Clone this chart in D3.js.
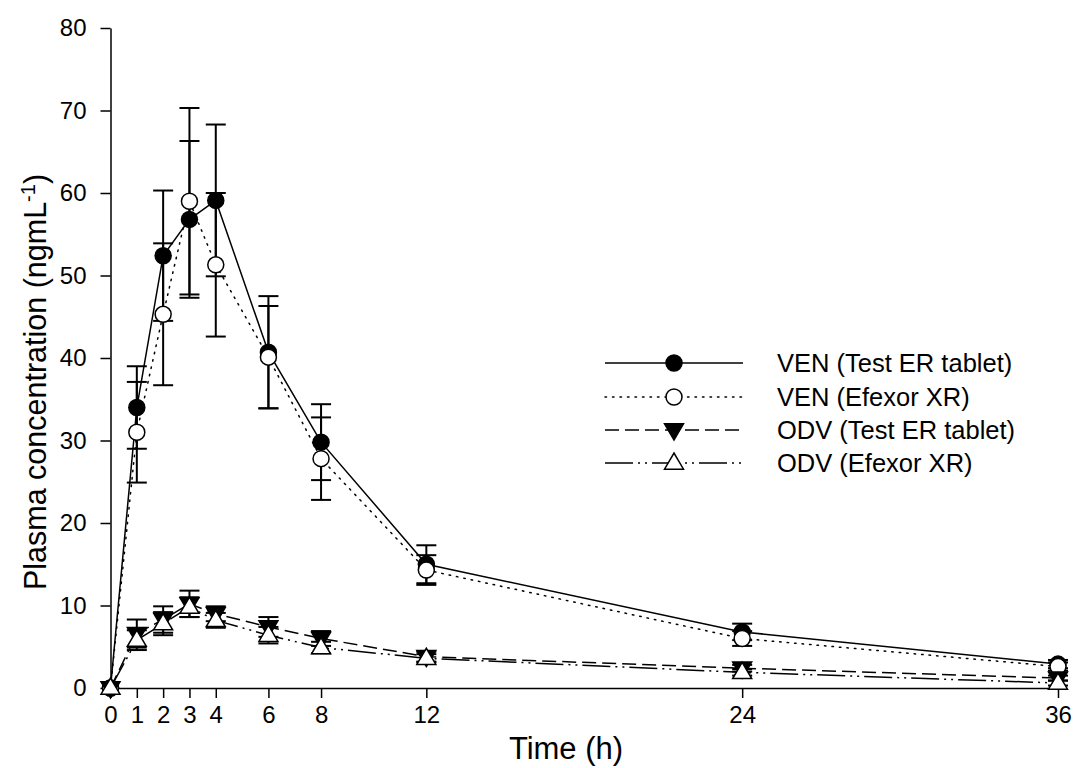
<!DOCTYPE html>
<html>
<head>
<meta charset="utf-8">
<script src="https://cdn.jsdelivr.net/npm/d3@7"></script>
<style>
  body { margin: 0; background: #fff; }
  svg { display: block; font-family: Arial, "Liberation Sans", sans-serif; }
</style>
</head>
<body>
<div id="chart"></div>
<script>
// time points (h)
const times = [0, 1, 2, 3, 4, 6, 8, 12, 24, 36];
const xTicks = [0, 1, 2, 3, 4, 6, 8, 12, 24, 36];
const yTicks = [0, 10, 20, 30, 40, 50, 60, 70, 80];

// mean plasma concentrations (ng/mL) and SD
const venTest = [0, 34.0, 52.4, 56.8, 59.1, 40.7, 29.8, 15.0, 6.8, 2.9];
const venTestSd = [0, 5.0, 7.9, 9.5, 9.2, 6.8, 4.6, 2.3, 1.0, 0.5];
const venRef = [0, 31.0, 45.3, 59.0, 51.3, 40.1, 27.8, 14.3, 6.0, 2.6];
const venRefSd = [0, 6.1, 8.6, 11.3, 8.7, 6.2, 5.0, 1.8, 0.9, 0.5];
const odvTest = [0, 6.6, 8.3, 10.2, 9.0, 7.4, 6.0, 3.8, 2.4, 1.2];
const odvTestSd = [0, 1.7, 1.6, 1.6, 0.9, 1.2, 0.9, 0.6, 0.4, 0.3];
const odvRef = [0, 5.8, 7.8, 9.8, 8.2, 6.4, 4.9, 3.6, 1.9, 0.6];
const odvRefSd = [0, 1.2, 1.4, 1.2, 0.9, 1.0, 0.7, 0.5, 0.4, 0.3];

const seriesNames = ["VEN (Test ER tablet)", "VEN (Efexor XR)", "ODV (Test ER tablet)", "ODV (Efexor XR)"];

const series = [
  { name: seriesNames[0], mean: venTest, sd: venTestSd, dash: null, marker: "circle", fill: "#000" },
  { name: seriesNames[1], mean: venRef, sd: venRefSd, dash: "1.5,6", marker: "circle", fill: "#fff" },
  { name: seriesNames[2], mean: odvTest, sd: odvTestSd, dash: "14,6", marker: "down", fill: "#000" },
  { name: seriesNames[3], mean: odvRef, sd: odvRefSd, dash: "28,5,2,5,2,5", marker: "up", fill: "#fff" }
];

const width = 1077, height = 768;
const x = d3.scaleLinear().domain([0, 36]).range([110.5, 1058]);
const y = d3.scaleLinear().domain([0, 80]).range([688, 28]);

const svg = d3.select("#chart").append("svg")
  .attr("width", width).attr("height", height);

// axes
const xAxis = svg.append("g")
  .attr("transform", `translate(0,${y(0)})`)
  .call(d3.axisBottom(x).tickValues(xTicks).tickSize(10).tickSizeOuter(0).tickPadding(8));
const yAxis = svg.append("g")
  .attr("transform", `translate(${x(0)},0)`)
  .call(d3.axisLeft(y).tickValues(yTicks).tickSize(10).tickSizeOuter(0).tickPadding(14));

[xAxis, yAxis].forEach(g => {
  g.select(".domain").attr("stroke", "#000").attr("stroke-width", 1.5);
  g.selectAll(".tick line").attr("stroke", "#000").attr("stroke-width", 1.5);
  g.selectAll(".tick text").attr("fill", "#000").attr("font-size", 24)
    .attr("font-family", "Arial, 'Liberation Sans', sans-serif");
});

// axis titles
svg.append("text")
  .attr("x", 566).attr("y", 759)
  .attr("text-anchor", "middle").attr("font-size", 31)
  .text("Time (h)");

const yt = svg.append("text")
  .attr("transform", `translate(46,382) rotate(-90)`)
  .attr("text-anchor", "middle").attr("font-size", 30.5);
yt.append("tspan").text("Plasma concentration (ngmL");
yt.append("tspan").attr("baseline-shift", "super").attr("font-size", 20).text("-1");
yt.append("tspan").text(")");

// marker drawing
const tri = 9.5;
function drawMarker(g, type, fill, cx, cy) {
  if (type === "circle") {
    g.append("circle").attr("cx", cx).attr("cy", cy).attr("r", 8)
      .attr("fill", fill).attr("stroke", "#000").attr("stroke-width", 1.5);
  } else {
    const s = type === "down" ? 1 : -1;
    const pts = [[cx - tri, cy - s * tri * 0.65], [cx + tri, cy - s * tri * 0.65], [cx, cy + s * tri * 1.05]];
    g.append("path").attr("d", d3.line()(pts) + "Z")
      .attr("fill", fill).attr("stroke", "#000").attr("stroke-width", 1.5)
      .attr("stroke-linejoin", "miter");
  }
}

const line = d3.line().x((d, i) => x(times[i])).y(d => y(d));
const plot = svg.append("g");

series.forEach(s => {
  const g = plot.append("g");
  // error bars
  times.forEach((t, i) => {
    if (s.sd[i] <= 0) return;
    const cx = x(t), hi = y(s.mean[i] + s.sd[i]), lo = y(s.mean[i] - s.sd[i]);
    g.append("line").attr("x1", cx).attr("x2", cx).attr("y1", hi).attr("y2", lo)
      .attr("stroke", "#000").attr("stroke-width", 2);
    [hi, lo].forEach(yy => g.append("line")
      .attr("x1", cx - 10).attr("x2", cx + 10).attr("y1", yy).attr("y2", yy)
      .attr("stroke", "#000").attr("stroke-width", 2));
  });
  g.append("path").datum(s.mean).attr("d", line)
    .attr("fill", "none").attr("stroke", "#000").attr("stroke-width", 1.5)
    .attr("stroke-dasharray", s.dash)
    .attr("stroke-linecap", s.dash === "1.5,6" ? "round" : "butt");
  times.forEach((t, i) => drawMarker(g, s.marker, s.fill, x(t), y(s.mean[i])));
});

// legend
const legend = svg.append("g");
const rowY = [363, 397, 430, 463];
series.forEach((s, i) => {
  legend.append("line").attr("x1", 605).attr("x2", 743).attr("y1", rowY[i]).attr("y2", rowY[i])
    .attr("stroke", "#000").attr("stroke-width", 1.5).attr("stroke-dasharray", s.dash)
    .attr("stroke-linecap", s.dash === "1.5,6" ? "round" : "butt");
  drawMarker(legend, s.marker, s.fill, 674, rowY[i]);
  legend.append("text").attr("x", 777).attr("y", rowY[i]).attr("dy", "0.35em")
    .attr("font-size", 25.5).text(s.name);
});
</script>
</body>
</html>
